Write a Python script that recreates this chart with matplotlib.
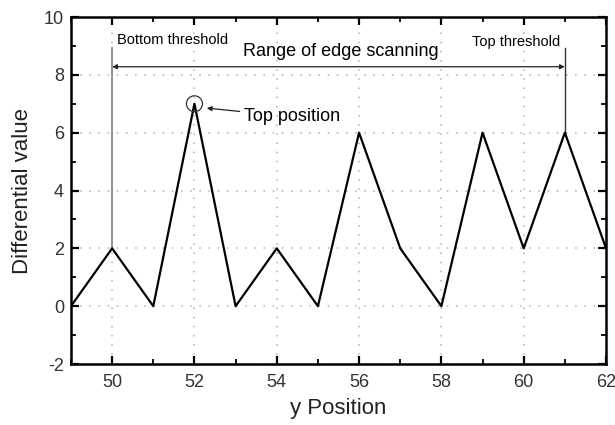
import numpy as np
import matplotlib.pyplot as plt
from matplotlib.patches import Ellipse
from matplotlib.ticker import MultipleLocator

plt.rcParams['font.family'] = ['Liberation Sans', 'DejaVu Sans']
plt.rcParams['axes.unicode_minus'] = False

# differential value along y
y_pos = [49, 50, 51, 52, 53, 54, 55, 56, 57, 58, 59, 60, 61, 62]
diff_val = [0, 2, 0, 7, 0, 2, 0, 6, 2, 0, 6, 2, 6, 2]

bottom_thr = 50
top_thr = 61
peak_x, peak_y = 52, 7

fig = plt.figure(figsize=(6.15, 4.25), dpi=100)
ax = fig.add_axes([0.1154, 0.1435, 0.87, 0.8165])

ax.plot(y_pos, diff_val, color='black', lw=1.6, zorder=3)

ax.set_xlim(49, 62)
ax.set_ylim(-2, 10)
ax.xaxis.set_major_locator(MultipleLocator(2))
ax.xaxis.set_minor_locator(MultipleLocator(1))
ax.yaxis.set_major_locator(MultipleLocator(2))
ax.yaxis.set_minor_locator(MultipleLocator(1))
ax.tick_params(which='both', direction='in', top=True, right=True,
               labeltop=False, labelright=False, labelsize=13)
ax.tick_params(which='major', length=6, width=1.6, labelcolor='#333333')
ax.tick_params(which='minor', length=3.5, width=1.3)
ax.tick_params(axis='x', pad=7)
ax.tick_params(axis='y', pad=5)
for s in ax.spines.values():
    s.set_linewidth(1.8)
ax.grid(True, which='major', linestyle=(0, (1, 5)), color='#b0b0b0', lw=1.1)
ax.set_axisbelow(True)

ax.set_xlabel('y Position', fontsize=16, labelpad=5, color='#222222')
ax.set_ylabel('Differential value', fontsize=16, labelpad=8, color='#222222')

# threshold markers
y_bot = diff_val[y_pos.index(bottom_thr)]
y_top = diff_val[y_pos.index(top_thr)]
ax.plot([bottom_thr, bottom_thr], [y_bot, 8.93], color='#888888', lw=1.3, zorder=2)
ax.plot([top_thr, top_thr], [y_top, 8.93], color='#333333', lw=1.0, zorder=2)
ax.text(50.12, 9.2, 'Bottom threshold', fontsize=10.5, va='center', ha='left')
ax.text(60.88, 9.13, 'Top threshold', fontsize=10.5, va='center', ha='right')

# scanning range arrow
ax.annotate('', xy=(bottom_thr, 8.28), xytext=(top_thr, 8.28),
            arrowprops=dict(arrowstyle='<|-|>', color='#222222', lw=0.9,
                            mutation_scale=7, shrinkA=0, shrinkB=0))
ax.text(55.56, 8.79, 'Range of edge scanning', fontsize=13, ha='center', va='center')

# mark the peak
ax.add_patch(Ellipse((peak_x, peak_y), width=0.39, height=0.55, fill=False,
                     edgecolor='#333333', lw=0.9, zorder=4))
ax.annotate('Top position', xy=(52.3, 6.85), xytext=(53.2, 6.55),
            fontsize=13, va='center', ha='left',
            arrowprops=dict(arrowstyle='-|>', color='#222222', lw=0.9,
                            mutation_scale=7, shrinkA=1, shrinkB=0))

fig.savefig('out.png', dpi=100)
